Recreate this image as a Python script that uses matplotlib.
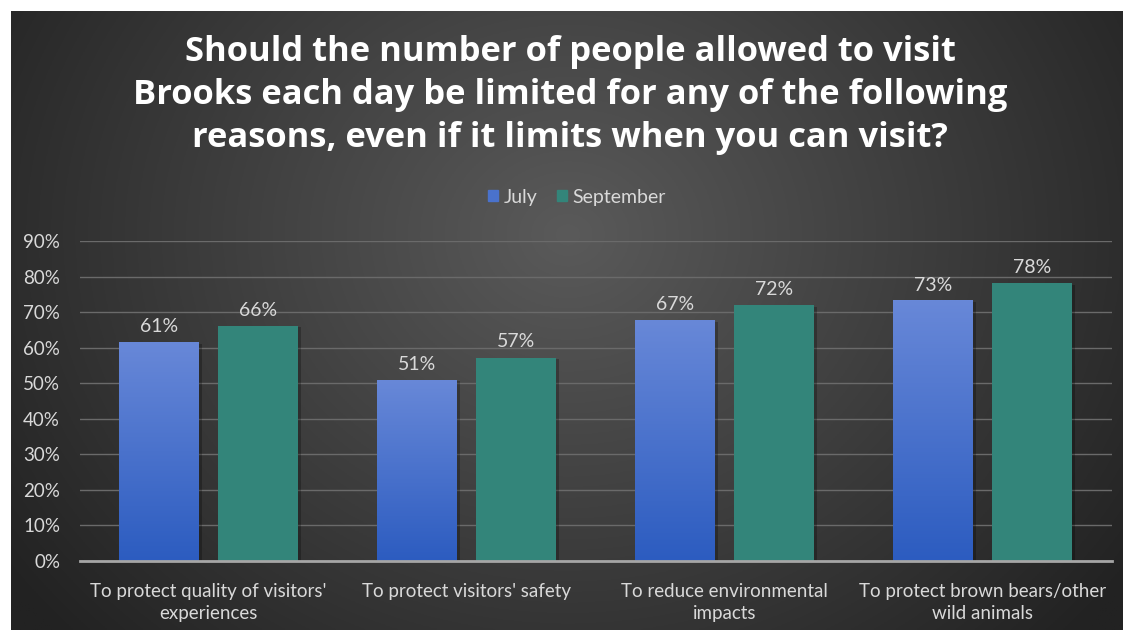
import numpy as np
import matplotlib
matplotlib.use("Agg")
import matplotlib.pyplot as plt

categories = ["To protect quality of visitors'\nexperiences",
              "To protect visitors' safety",
              "To reduce environmental\nimpacts",
              "To protect brown bears/other\nwild animals"]
july = [61.5, 50.9, 67.6, 73.2]
september = [66.1, 57.2, 71.9, 78.1]
july_labels = ["61%", "51%", "67%", "73%"]
sept_labels = ["66%", "57%", "72%", "78%"]
yticks = [0, 10, 20, 30, 40, 50, 60, 70, 80, 90]
title = ("Should the number of people allowed to visit\n"
         "Brooks each day be limited for any of the following\n"
         "reasons, even if it limits when you can visit?")

plt.rcParams['font.family'] = ['Lato', 'DejaVu Sans']
W, H = 1125, 630
fig = plt.figure(figsize=(W/100, H/100), dpi=100, facecolor='white')

# dark panel with radial gradient
bg = fig.add_axes([11/W, 0, 1 - 13/W, 1 - 11/H])
bg.set_axis_off()
ny, nx = 300, 540
yy, xx = np.mgrid[0:ny, 0:nx]
cx, cy = nx*0.5, ny*0.36
r = np.sqrt(((xx-cx)/(nx*0.62))**2 + ((yy-cy)/(ny*0.95))**2)
r = np.clip(r, 0, 1)
inner = np.array([0x5a, 0x5a, 0x5a])/255
outer = np.array([0x22, 0x22, 0x22])/255
img = inner[None, None, :]*(1-r[..., None]) + outer[None, None, :]*r[..., None]
bg.imshow(img, aspect='auto', extent=[0, 1, 0, 1], origin='upper')
bg.set_xlim(0, 1); bg.set_ylim(0, 1)

ax = fig.add_axes([79.5/W, 1-560.7/H, (1111.5-79.5)/W, (560.7-241)/H])
ax.patch.set_alpha(0)
x = np.arange(len(categories))
w = 0.31
off = 0.192

grad = np.linspace(0, 1, 256)[:, None]
top_c = np.array([0x68, 0x88, 0xd8])/255
bot_c = np.array([0x2c, 0x5c, 0xc0])/255
gimg = top_c[None, None, :]*(1-grad[..., None]) + bot_c[None, None, :]*grad[..., None]

b1 = ax.bar(x - off, july, w, color='none', zorder=3)
b2 = ax.bar(x + off, september, w, color='#33857a', zorder=3)
for rect in b1:
    x0 = rect.get_x(); h = rect.get_height()
    ax.imshow(gimg, extent=[x0, x0 + w, 0, h], aspect='auto', origin='upper', zorder=3)
# subtle shadows
for rect in list(b1) + list(b2):
    ax.add_patch(plt.Rectangle((rect.get_x()+0.012, 0), w, rect.get_height()-0.4,
                               color='black', alpha=0.25, zorder=2.5, lw=0))

for xi, v, lab in zip(x - off, july, july_labels):
    ax.text(xi, v + 2.0, lab, ha='center', va='bottom', color='#d9d9d9', fontsize=14)
for xi, v, lab in zip(x + off, september, sept_labels):
    ax.text(xi, v + 2.0, lab, ha='center', va='bottom', color='#d9d9d9', fontsize=14)

ax.set_xlim(-0.5, len(categories) - 0.5)
ax.set_ylim(0, 90)
ax.set_yticks(yticks)
ax.set_yticklabels([f"{t}%" for t in yticks], color='#d9d9d9', fontsize=13.5)
ax.set_xticks(x)
ax.set_xticklabels(categories, color='#d9d9d9', fontsize=13.5, linespacing=1.35)
ax.tick_params(axis='y', length=0, pad=14)
ax.tick_params(axis='x', length=0, pad=16)
ax.grid(axis='y', color='#6a6a6a', lw=1, zorder=0)
for s in ['top', 'right', 'left']:
    ax.spines[s].set_visible(False)
ax.spines['bottom'].set_color('#a6a6a6')
ax.spines['bottom'].set_linewidth(2)
ax.spines['bottom'].set_zorder(4)

fig.text(570/W, 1-95/H, title, ha='center', va='center', color='white',
         fontsize=24.8, fontweight='bold', linespacing=1.35, family=['Open Sans', 'DejaVu Sans'])

from matplotlib.patches import Patch
handles = [Patch(color='#4a72cc'), Patch(color='#33857a')]
leg = fig.legend(handles, ['July', 'September'], loc='center', bbox_to_anchor=(577/W, 1-197/H),
                 ncol=2, frameon=False, fontsize=14, handlelength=0.5, handleheight=0.5,
                 handletextpad=0.3, columnspacing=1.0)
for t in leg.get_texts():
    t.set_color('#d9d9d9')

fig.savefig('out.png', dpi=100, facecolor='white')
